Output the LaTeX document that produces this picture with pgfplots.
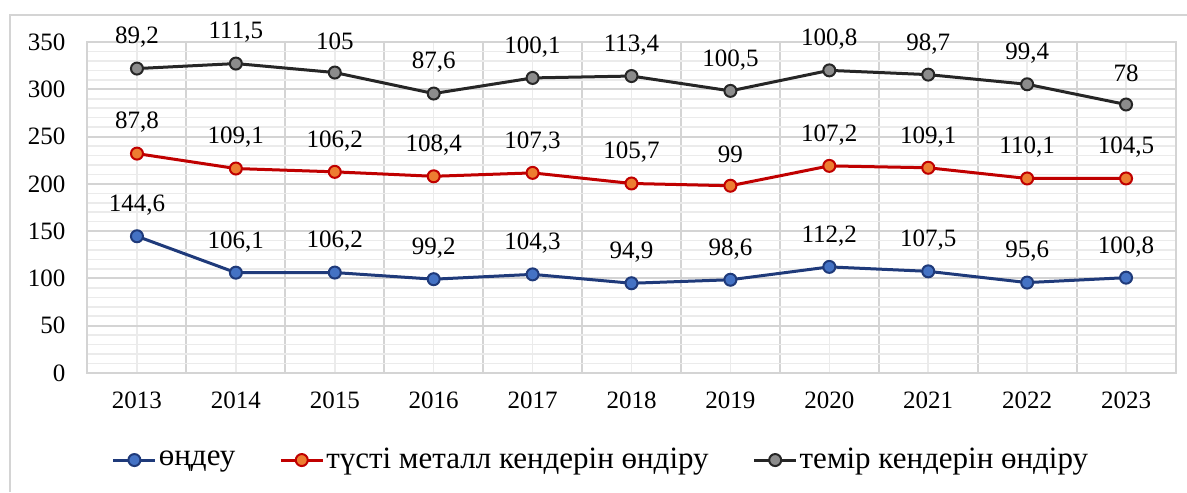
\documentclass[border=0pt]{standalone}
\usepackage{fontspec}
\setmainfont{Liberation Serif}
\usepackage{pgfplots}
\usepackage{pgfplotstable}
\pgfplotsset{compat=1.18}

\definecolor{gridmaj}{HTML}{D4D4D4}
\definecolor{gridmin}{HTML}{EBEBEB}
\definecolor{blueline}{HTML}{1F3A7A}
\definecolor{bluefill}{HTML}{4472C4}
\definecolor{redline}{HTML}{C00000}
\definecolor{redfill}{HTML}{ED7D31}
\definecolor{blackline}{HTML}{262626}
\definecolor{blackfill}{HTML}{8C8C8C}

% x = year index (2013 = 0), y = plotted position, l = printed label
\pgfplotstableread{
x y l
0 144.6 144,6
1 106.1 106,1
2 106.2 106,2
3 99.2 99,2
4 104.3 104,3
5 94.9 94,9
6 98.6 98,6
7 112.2 112,2
8 107.5 107,5
9 95.6 95,6
10 100.8 100,8
}\ondeu

\pgfplotstableread{
x y l
0 232.0 87,8
1 216.2 109,1
2 212.7 106,2
3 208.0 108,4
4 211.6 107,3
5 200.4 105,7
6 198.0 99
7 219.0 107,2
8 217.0 109,1
9 205.7 110,1
10 205.7 104,5
}\tusti

\pgfplotstableread{
x y l
0 321.9 89,2
1 327.2 111,5
2 317.7 105
3 295.5 87,6
4 312.0 100,1
5 314.0 113,4
6 298.3 100,5
7 320.0 100,8
8 315.5 98,7
9 305.3 99,4
10 283.9 78
}\temir

\newcommand{\lblfont}{\fontsize{12.5}{15}\selectfont}
\newcommand{\legfont}{\fontsize{15.5}{18}\selectfont}

\begin{document}
\begin{tikzpicture}
\useasboundingbox (-43.75pt,-59.5pt) rectangle (549.75pt,186.5pt);
\draw[gridmaj, line width=0.8pt] (-38.75pt,-59.5pt) -- (-38.75pt,179pt) -- (549.75pt,179pt);
\begin{axis}[
    at={(0,0)}, anchor=south west,
    scale only axis,
    width=544pt, height=165.5pt,
    xmin=-0.5, xmax=10.5,
    ymin=0, ymax=350,
    clip=false,
    xtick={-0.5,0.5,1.5,2.5,3.5,4.5,5.5,6.5,7.5,8.5,9.5,10.5},
    xticklabels={},
    minor xtick={0,1,2,3,4,5,6,7,8,9,10},
    extra x ticks={0,1,2,3,4,5,6,7,8,9,10},
    extra x tick labels={2013,2014,2015,2016,2017,2018,2019,2020,2021,2022,2023},
    extra x tick style={grid=none},
    ytick={0,50,...,350},
    minor y tick num=4,
    xmajorgrids, xminorgrids, ymajorgrids, yminorgrids,
    major grid style={draw=gridmaj, line width=1pt},
    minor grid style={draw=gridmin, line width=0.8pt},
    major tick length=0pt, minor tick length=0pt,
    axis line style={draw=gridmaj, line width=1pt},
    tick label style={font=\lblfont, text=black},
    /pgf/number format/assume math mode=true,
    yticklabel style={xshift=-7.5pt},
    xticklabel style={yshift=-6pt},
    legend columns=3,
    legend style={draw=none, fill=none, at={(0.472,-0.263)}, anchor=center,
        font=\legfont, /tikz/every even column/.append style={column sep=21pt},
        nodes={inner xsep=1pt}},
    legend image code/.code={\draw[mark repeat=2, mark phase=2]
        plot coordinates {(0pt,0pt) (10.5pt,0pt) (21pt,0pt)};},
    nodes near coords,
    point meta=explicit symbolic,
    every node near coord/.append style={anchor=center, yshift=15.5pt, font=\lblfont, text=black},
    mark size=3pt,
]
\addplot[blueline, line width=1.5pt, mark=*, mark options={fill=bluefill, draw=blueline, line width=1pt}]
    table[x=x, y=y, meta=l] {\ondeu};
\addlegendentry{өңдеу}
\addplot[redline, line width=1.5pt, mark=*, mark options={fill=redfill, draw=redline, line width=1pt}]
    table[x=x, y=y, meta=l] {\tusti};
\addlegendentry{түсті металл кендерін өндіру}
\addplot[blackline, line width=1.5pt, mark=*, mark options={fill=blackfill, draw=blackline, line width=1pt}]
    table[x=x, y=y, meta=l] {\temir};
\addlegendentry{темір кендерін өндіру}
\end{axis}
\end{tikzpicture}
\end{document}
